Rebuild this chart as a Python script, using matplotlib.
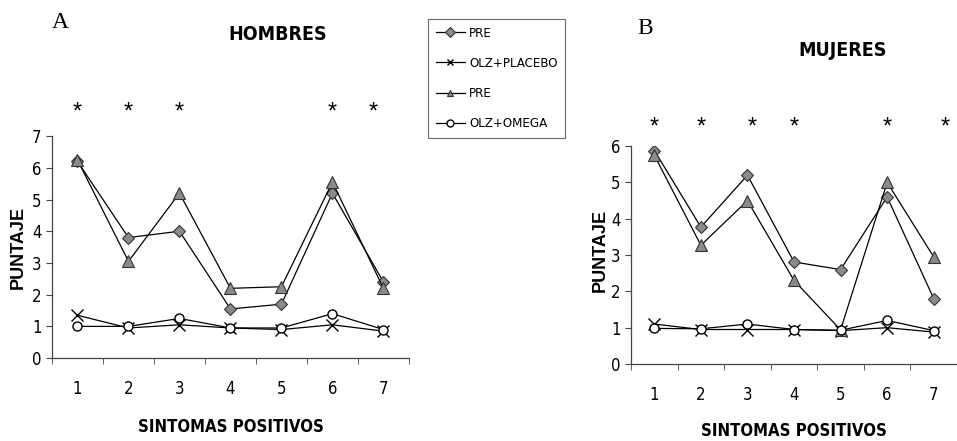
import numpy as np
import matplotlib
matplotlib.use("Agg")
import matplotlib.pyplot as plt
from matplotlib.transforms import blended_transform_factory

plt.rcParams['font.family'] = ['DejaVu Sans']
plt.rcParams['font.stretch'] = 'condensed'

sintomas = [1, 2, 3, 4, 5, 6, 7]
etiquetas = ["PRE", "OLZ+PLACEBO", "PRE", "OLZ+OMEGA"]

# HOMBRES
h_pre1 = [6.2, 3.8, 4.0, 1.55, 1.7, 5.2, 2.4]
h_placebo = [1.35, 0.95, 1.05, 0.95, 0.9, 1.05, 0.85]
h_pre2 = [6.25, 3.05, 5.2, 2.2, 2.25, 5.55, 2.2]
h_omega = [1.0, 1.0, 1.25, 0.95, 0.95, 1.4, 0.9]
h_signif = [1, 2, 3, 6, 7]

# MUJERES
m_pre1 = [5.88, 3.77, 5.2, 2.81, 2.6, 4.6, 1.8]
m_placebo = [1.1, 0.95, 0.95, 0.95, 0.92, 1.0, 0.88]
m_pre2 = [5.75, 3.27, 4.5, 2.3, 0.94, 5.0, 2.95]
m_omega = [0.98, 0.97, 1.1, 0.95, 0.93, 1.2, 0.92]
m_signif = [1, 2, 3, 4, 6, 7]

gris = '#8a8a8a'
estilos = [
    dict(marker='D', markersize=6.5, markerfacecolor=gris, markeredgecolor='#333333', markeredgewidth=0.8),
    dict(marker='x', markersize=8, markeredgecolor='black', markeredgewidth=1.0),
    dict(marker='^', markersize=8, markerfacecolor=gris, markeredgecolor='#333333', markeredgewidth=0.8),
    dict(marker='o', markersize=6.5, markerfacecolor='white', markeredgecolor='black', markeredgewidth=1.0),
]

fig = plt.figure(figsize=(9.57, 4.41), dpi=100)
axA = fig.add_axes([0.0543, 0.188, 0.373, 0.5034])
axB = fig.add_axes([0.6594, 0.1746, 0.3406, 0.494])


def panel(ax, series, ymax, signif, star_y, star_dx, xpad):
    lines = []
    for s, st in zip(series, estilos):
        l, = ax.plot(sintomas, s, color='black', linewidth=0.9, **st)
        lines.append(l)
    ax.set_xlim(0.5, 7.5)
    ax.set_ylim(0, ymax)
    ax.set_yticks(range(0, ymax + 1))
    ax.set_xticks(sintomas)
    ax.set_xticks(np.arange(0.5, 7.6, 1), minor=True)
    ax.tick_params(axis='x', which='major', length=0, pad=16, labelsize=12)
    ax.tick_params(axis='x', which='minor', length=4, direction='out', color='#444444')
    ax.tick_params(axis='y', length=4, direction='out', labelsize=12, color='#444444')
    for sp in ['top', 'right']:
        ax.spines[sp].set_visible(False)
    for sp in ['left', 'bottom']:
        ax.spines[sp].set_color('#444444')
        ax.spines[sp].set_linewidth(0.9)
    ax.set_xlabel("SINTOMAS POSITIVOS", fontsize=12, fontweight='bold', labelpad=xpad)
    ax.set_ylabel("PUNTAJE", fontsize=13, fontweight='bold', family=['Liberation Sans', 'DejaVu Sans'],
                  fontstretch='normal')
    tr = blended_transform_factory(ax.transData, fig.transFigure)
    for k in signif:
        ax.text(k + star_dx.get(k, 0), star_y, "*", transform=tr, ha='center', va='center',
                fontsize=17, family=['Liberation Sans', 'DejaVu Sans'], fontstretch='normal')
    return lines


lines = panel(axA, [h_pre1, h_placebo, h_pre2, h_omega], 7, h_signif, 0.745, {7: -0.2}, 14)
panel(axB, [m_pre1, m_placebo, m_pre2, m_omega], 6, m_signif, 0.71, {3: 0.1, 7: 0.25}, 13)

axA.yaxis.set_label_coords(-0.07, 0.5)
axB.yaxis.set_label_coords(-0.068, 0.52)

fig.text(60 / 957, 1 - 22 / 441, "A", fontsize=17, family=['Liberation Serif', 'DejaVu Serif'],
         fontstretch='normal', ha='center', va='center')
fig.text(645 / 957, 1 - 28 / 441, "B", fontsize=17, family=['Liberation Serif', 'DejaVu Serif'],
         fontstretch='normal', ha='center', va='center')
fig.text(278 / 957, 1 - 35 / 441, "HOMBRES", fontsize=14, fontweight='bold', ha='center', va='center')
fig.text(843 / 957, 1 - 50 / 441, "MUJERES", fontsize=14, fontweight='bold', ha='center', va='center')

leg = fig.legend(lines, etiquetas, loc='upper left', bbox_to_anchor=(428 / 957, 1 - 19 / 441),
                 fontsize=9.5, frameon=True, fancybox=False, edgecolor='#444444',
                 labelspacing=1.3, handlelength=2.2, handletextpad=0.3, borderpad=0.6,
                 borderaxespad=0)
leg.get_frame().set_linewidth(0.8)
for h in leg.legend_handles:
    h.set_markersize(5)

fig.savefig("out.png", dpi=100)
